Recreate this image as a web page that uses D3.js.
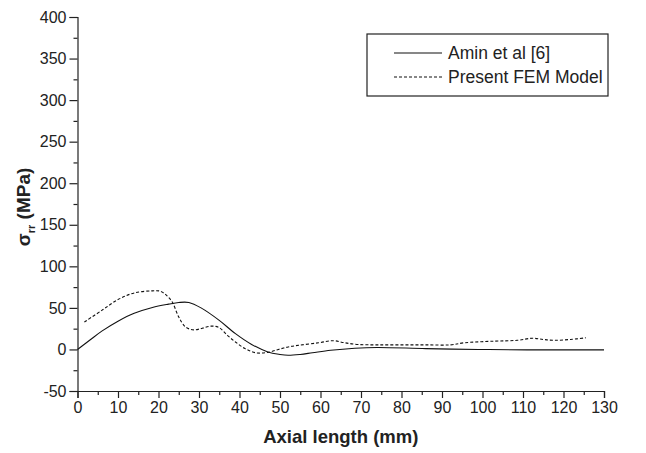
<!DOCTYPE html>
<html>
<head>
<meta charset="utf-8">
<script src="https://cdn.jsdelivr.net/npm/d3@7"></script>
<style>
  body { margin: 0; background: #fff; }
  text { font-family: "Liberation Sans", Arial, sans-serif; fill: #222; }
</style>
</head>
<body>
<script>
  // Amin et al [6] (solid)
  const aminX = [0, 3, 6, 10, 14, 18.5, 22.5, 25, 27.5, 30.5, 35, 39, 43, 47, 50, 52, 55, 58, 62.5, 68.5, 74, 86, 99, 111, 120, 130];
  const aminY = [0, 11, 22, 34, 43.5, 50.5, 54.5, 56.5, 56.5, 50, 35, 19, 6, -3, -6, -7, -6, -4, -1, 1.5, 2.4, 1, 0, -0.5, -0.5, -0.5];
  // Present FEM Model (dashed)
  const femX = [1.7, 6, 10, 14, 18.5, 20.5, 22, 23.4, 25, 26.7, 28.7, 30.8, 32.9, 34.9, 37, 39, 41.4, 44, 47, 49.6, 52, 54.6, 59.5, 63.2, 66, 69.3, 74, 80, 86, 92, 95.5, 103, 108.6, 112.3, 115, 117.6, 121.7, 125.5];
  const femY = [33, 47, 60, 68, 70.5, 70, 65, 57, 39, 27, 23.5, 25.5, 28, 26.5, 17, 9, 1, -4, -3.5, 0, 3, 5, 8, 10.5, 8, 6, 5.5, 5.5, 5.5, 5.5, 8, 10, 11, 13.5, 12, 11, 12, 14];

  const xTicks = d3.range(0, 131, 10);
  const yTicks = d3.range(-50, 401, 50);

  const width = 646, height = 453;
  const svg = d3.select('body').append('svg')
    .attr('width', width).attr('height', height);

  const x = d3.scaleLinear().domain([0, 130]).range([77.5, 604]);
  const y = d3.scaleLinear().domain([-50, 400]).range([391, 17]);

  // minor ticks
  svg.append('g')
    .attr('transform', `translate(0,${y(-50)})`)
    .call(d3.axisBottom(x).tickValues(d3.range(5, 130, 10)).tickSize(4).tickFormat(''))
    .call(g => g.select('.domain').remove());
  svg.append('g')
    .attr('transform', `translate(${x(0)},0)`)
    .call(d3.axisLeft(y).tickValues(d3.range(-25, 400, 50)).tickSize(4).tickFormat(''))
    .call(g => g.select('.domain').remove());

  const xAxis = svg.append('g')
    .attr('transform', `translate(0,${y(-50)})`)
    .call(d3.axisBottom(x).tickValues(xTicks).tickSizeOuter(0).tickSize(7).tickPadding(4)
      .tickFormat(d => String(d)));
  const yAxis = svg.append('g')
    .attr('transform', `translate(${x(0)},0)`)
    .call(d3.axisLeft(y).tickValues(yTicks).tickSizeOuter(0).tickSize(8).tickPadding(3)
      .tickFormat(d => String(d)));

  svg.selectAll('.tick line, .domain').attr('stroke', '#222').attr('stroke-width', 1.2);
  [xAxis, yAxis].forEach(a => a.selectAll('text')
    .style('font-family', '"Liberation Sans", Arial, sans-serif')
    .style('font-size', '16px').attr('fill', '#222'));

  const line = d3.line().x(d => x(d[0])).y(d => y(d[1])).curve(d3.curveCatmullRom.alpha(0.5));

  svg.append('path')
    .datum(aminX.map((v, i) => [v, aminY[i]]))
    .attr('d', line).attr('fill', 'none').attr('stroke', '#111').attr('stroke-width', 1.1);
  svg.append('path')
    .datum(femX.map((v, i) => [v, femY[i]]))
    .attr('d', line).attr('fill', 'none').attr('stroke', '#111').attr('stroke-width', 1.1)
    .attr('stroke-dasharray', '3,2');

  // axis titles
  svg.append('text')
    .attr('x', (x(0) + x(130)) / 2).attr('y', 443)
    .attr('text-anchor', 'middle')
    .style('font-size', '18.5px').style('font-weight', 'bold')
    .text('Axial length (mm)');

  const yt = svg.append('text')
    .attr('transform', 'translate(30,207) rotate(-90)')
    .attr('text-anchor', 'middle')
    .style('font-size', '19px').style('font-weight', 'bold');
  yt.append('tspan').text('σ');
  yt.append('tspan').attr('dy', 5).style('font-size', '11px').text('rr');
  yt.append('tspan').attr('dy', -5).text(' (MPa)');

  // legend
  const lg = svg.append('g');
  lg.append('rect')
    .attr('x', 367).attr('y', 34).attr('width', 241).attr('height', 62)
    .attr('fill', '#fff').attr('stroke', '#222').attr('stroke-width', 1.2);
  const names = ['Amin et al [6]', 'Present FEM Model'];
  names.forEach((n, i) => {
    const yy = 53 + i * 24;
    lg.append('line').attr('x1', 394).attr('x2', 442).attr('y1', yy).attr('y2', yy)
      .attr('stroke', '#111').attr('stroke-width', 1.1)
      .attr('stroke-dasharray', i === 1 ? '3,2' : null);
    lg.append('text').attr('x', 448).attr('y', yy + 6)
      .style('font-size', '17.5px').text(n);
  });
</script>
</body>
</html>
